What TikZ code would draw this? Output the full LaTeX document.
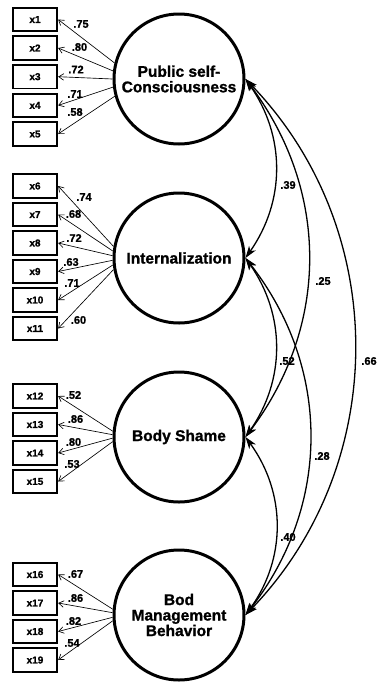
\documentclass[tikz,border=0pt]{standalone}
\usepackage{fontspec}
\setmainfont{Liberation Sans}[BoldFeatures={FakeBold=1.2}]
\usetikzlibrary{arrows.meta}
\begin{document}
\begin{tikzpicture}[x=1pt,y=-1pt,
  latent/.style={circle,draw,line width=3pt,minimum size=130pt,inner sep=0pt,align=center,
    font=\fontsize{15.5}{15.5}\selectfont\bfseries},
  obs/.style={rectangle,draw,line width=1.8pt,minimum width=44.5pt,minimum height=23.5pt,inner sep=0pt,
    font=\fontsize{10}{10}\selectfont\bfseries},
  load/.style={-{Straight Barb[length=5pt,width=6.5pt]},line width=0.65pt},
  cov/.style={{Stealth[length=12pt,width=8pt,inset=3.5pt]}-{Stealth[length=12pt,width=8pt,inset=3.5pt]},line width=1.3pt},
  lab/.style={inner sep=0pt,font=\fontsize{11}{11}\selectfont\bfseries}]
\useasboundingbox (0,0) rectangle (377,686);
\fill[white] (0,0) rectangle (377,686);

% latent variables
\node[latent] (psc) at (179,79) {Public self-\\Consciousness};
\node[latent] (int) at (179,258) {Internalization};
\node[latent] (bs)  at (179,437) {Body Shame};
\node[latent] (bmb) at (179,615) {Bod\\Management\\Behavior};

% observed variables
\foreach \i/\y in {1/19.5,2/48,3/76.7,4/105.4,5/134}
  \node[obs] (x\i) at (35,\y) {x\i};
\foreach \i/\y in {6/186,7/214.5,8/243,9/271.5,10/300,11/328.5}
  \node[obs] (x\i) at (35,\y) {x\i};
\foreach \i/\y in {12/396,13/424.5,14/453,15/481.5}
  \node[obs] (x\i) at (35,\y) {x\i};
\foreach \i/\y in {16/574.5,17/603,18/631.5,19/660}
  \node[obs] (x\i) at (35,\y) {x\i};

% loadings
\foreach \i/\a in {1/166,2/173,3/180,4/187,5/195}
  \draw[load] (psc.\a) -- (x\i.east);
\foreach \i/\a in {6/170,7/174,8/178,9/182,10/186,11/190}
  \draw[load] (int.\a) -- (x\i.east);
\foreach \i/\a in {12/175,13/178,14/181,15/184}
  \draw[load] (bs.\a) -- (x\i.east);
\foreach \i/\a in {16/175,17/178,18/182,19/185}
  \draw[load] (bmb.\a) -- (x\i.east);

% loading labels
\node[lab] (l1) at (81,24) {.75};
\node[lab] (l2) at (79.5,47) {.80};
\node[lab] (l3) at (76,69.5) {.72};
\node[lab] (l4) at (75,94) {.71};
\node[lab] (l5) at (75,112) {.58};
\node[lab] (l6) at (84,197) {.74};
\node[lab] (l7) at (73.5,214) {.68};
\node[lab] (l8) at (74,238) {.72};
\node[lab] (l9) at (71,262) {.63};
\node[lab] (l10) at (72,283) {.71};
\node[lab] (l11) at (78.5,320) {.60};
\node[lab] (l12) at (73.5,395) {.52};
\node[lab] (l13) at (75.5,419) {.86};
\node[lab] (l14) at (73.5,442) {.80};
\node[lab] (l15) at (72,464) {.53};
\node[lab] (l16) at (75.5,574) {.67};
\node[lab] (l17) at (75.5,598) {.86};
\node[lab] (l18) at (73.5,621) {.82};
\node[lab] (l19) at (72,643) {.54};

% covariances
\draw[cov] (psc.east) to[bend left=35] (int.east);
\draw[cov] (psc.east) to[bend left=37] (bs.east);
\draw[cov] (psc.east) to[bend left=44] (bmb.east);
\draw[cov] (int.east) to[bend left=35] (bs.east);
\draw[cov] (int.east) to[bend left=38] (bmb.east);
\draw[cov] (bs.east) to[bend left=36] (bmb.east);

\node[lab] (c1) at (288,185) {.39};
\node[lab] (c2) at (323,281) {.25};
\node[lab] (c3) at (369,361) {.66};
\node[lab] (c4) at (287,361) {.52};
\node[lab] (c5) at (322,456) {.28};
\node[lab] (c6) at (288,537) {.40};
\end{tikzpicture}
\end{document}
